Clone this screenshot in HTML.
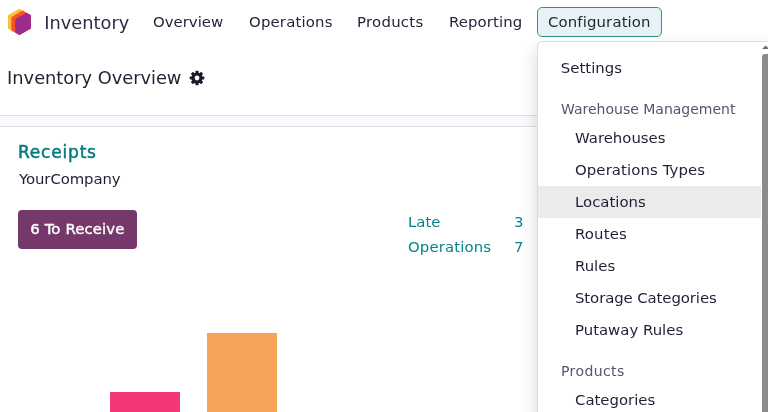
<!DOCTYPE html>
<html lang="en">
<head>
<meta charset="utf-8">
<title>Inventory Overview</title>
<style>
*{box-sizing:border-box;margin:0;padding:0}
html,body{width:768px;height:412px;overflow:hidden;background:#fff}
body{position:relative;font-family:"DejaVu Sans","Liberation Sans",sans-serif;font-size:14.9px;color:#1f2133;line-height:20px}
.t{position:absolute;white-space:nowrap;line-height:20px}
nav{position:absolute;left:0;top:0;width:768px;height:46px;background:#fff}
.brand{font-size:17.8px;color:#2a2d45}
.menu{color:#24273a}
.cfg{position:absolute;left:537px;top:6.5px;width:125px;height:30.5px;border:1px solid #2f9395;background:#e6f2f3;border-radius:5px}
.cp{position:absolute;left:0;top:46px;width:768px;height:70px;border-bottom:1px solid #dcdfe6;background:#fff}
.title{font-size:17.8px;color:#222435}
.content{position:absolute;left:0;top:116px;width:768px;height:296px;background:#f9fafb}
.card{position:absolute;left:0;top:10px;width:768px;height:286px;background:#fff;border-top:1px solid #dfe2e8}
.teal{color:#078489}
.h{font-size:17px;letter-spacing:0.8px;-webkit-text-stroke:0.5px #04797f;color:#04797f}
.btn{position:absolute;left:18px;top:210px;width:119px;height:39px;border-radius:4px;background:#74396a}
.bar{position:absolute}
.dd{position:absolute;left:537px;top:41px;width:240px;height:380px;background:#fff;border:1px solid #d9dce0;border-radius:5px 0 0 0;box-shadow:0 8px 17px rgba(0,0,0,.17)}
.hl{position:absolute;left:538px;top:186px;width:223px;height:32px;background:#ebebeb}
.hd{color:#54556e;font-size:14px}
.sb{position:absolute;left:762px;top:42px;width:8px;height:370px;background:#fff}
.thumb{position:absolute;left:0.3px;top:12px;width:8px;height:360px;background:#8b8b8b;border-radius:3px 3px 0 0}
</style>
</head>
<body>
<nav>
  <svg style="position:absolute;left:0;top:0" width="40" height="44" viewBox="0 0 40 44">
    <polygon points="8,15.2 19.4,8.7 30.9,15.2 30.9,28.5 19.4,35 8,28.5" fill="#fbc03a"/>
    <polygon points="11.3,17.3 22.6,10.6 30.9,15.2 30.9,28.5 19.4,35 11.3,30.4" fill="#f9522b"/>
    <polygon points="15.2,19.3 26.4,12.7 30.9,15.2 30.9,28.5 19.4,35 15.2,32.6" fill="#9c2b8c"/>
  </svg>
  <span class="t brand" style="left:44.3px;top:13px">Inventory</span>
  <span class="t menu" style="left:153px;top:12px">Overview</span>
  <span class="t menu" style="left:249px;top:12px;letter-spacing:0.17px">Operations</span>
  <span class="t menu" style="left:357px;top:12px;letter-spacing:0.27px">Products</span>
  <span class="t menu" style="left:449px;top:12px;letter-spacing:0.1px">Reporting</span>
  <div class="cfg"></div>
  <span class="t menu" style="left:548px;top:12px;letter-spacing:0.13px">Configuration</span>
</nav>
<div class="cp">
  <span class="t title" style="left:7.1px;top:22px">Inventory Overview</span>
  <svg style="position:absolute;left:189.4px;top:23.55px" width="16" height="16" viewBox="-8 -8 16 16">
    <g fill="#1b1b2b">
      <circle r="5.5"/>
      <rect x="-1.55" y="-7.3" width="3.1" height="14.6" rx="0.8"/>
      <rect x="-1.55" y="-7.3" width="3.1" height="14.6" rx="0.8" transform="rotate(45)"/>
      <rect x="-1.55" y="-7.3" width="3.1" height="14.6" rx="0.8" transform="rotate(90)"/>
      <rect x="-1.55" y="-7.3" width="3.1" height="14.6" rx="0.8" transform="rotate(135)"/>
    </g>
    <circle r="2.4" fill="#fff"/>
  </svg>
</div>
<div class="content">
  <div class="card"></div>
</div>
<span class="t teal h" style="left:18px;top:142px">Receipts</span>
<span class="t" style="left:19px;top:169px;letter-spacing:-0.1px">YourCompany</span>
<div class="btn"></div><span class="t btn-t" style="left:30.3px;top:219px;color:#fff;-webkit-text-stroke:0.42px #fff;letter-spacing:0.1px">6 To Receive</span>
<span class="t teal" style="left:408px;top:212px">Late</span>
<span class="t teal" style="left:514px;top:212px">3</span>
<span class="t teal" style="left:408px;top:237px;letter-spacing:0.12px">Operations</span>
<span class="t teal" style="left:514px;top:237px">7</span>
<div class="bar" style="left:109.7px;top:391.7px;width:70.5px;height:30px;background:#f43875"></div>
<div class="bar" style="left:207.4px;top:332.6px;width:70px;height:90px;background:#f5a458"></div>

<div class="dd"></div>
<div class="hl"></div>
<span class="t" style="left:560.8px;top:58px;letter-spacing:0.02px">Settings</span>
<span class="t hd" style="left:561px;top:99px">Warehouse Management</span>
<span class="t" style="left:575px;top:128px">Warehouses</span>
<span class="t" style="left:575px;top:159.6px;letter-spacing:0.1px">Operations Types</span>
<span class="t" style="left:575px;top:192px">Locations</span>
<span class="t" style="left:575px;top:224px;letter-spacing:0.15px">Routes</span>
<span class="t" style="left:575px;top:256px">Rules</span>
<span class="t" style="left:575px;top:288px;letter-spacing:-0.09px">Storage Categories</span>
<span class="t" style="left:575px;top:320px">Putaway Rules</span>
<span class="t hd" style="left:561px;top:361px;letter-spacing:0.4px">Products</span>
<span class="t" style="left:575px;top:390px">Categories</span>
<div class="sb">
  <svg style="position:absolute;left:0;top:3px" width="8" height="5" viewBox="0 0 8 5"><polygon points="0,4 3.6,0.6 7.2,4" fill="#6e6e6e"/></svg>
  <div class="thumb"></div>
</div>
</body>
</html>
